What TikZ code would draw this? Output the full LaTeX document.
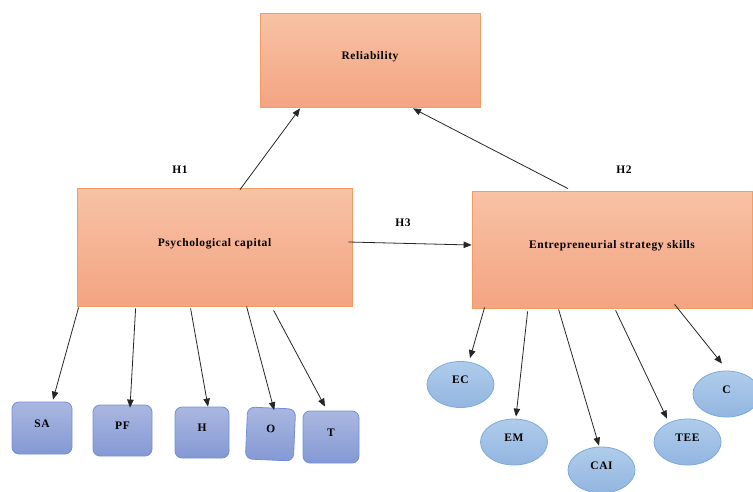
\documentclass[tikz,border=0pt]{standalone}
\usepackage{fontspec}
\setmainfont{Liberation Serif}
\newfontfamily\lblfont[LetterSpace=5]{Liberation Serif}
\usepackage{tikz}
\usetikzlibrary{calc}
\usetikzlibrary{shapes.geometric}
\usetikzlibrary{arrows.meta}
\definecolor{orangetop}{HTML}{F7C2A5}
\definecolor{orangebot}{HTML}{F4A482}
\definecolor{orangeline}{HTML}{F39C62}
\definecolor{sqtop}{HTML}{AAB7E0}
\definecolor{sqbot}{HTML}{8499D4}
\definecolor{sqline}{HTML}{7090D8}
\definecolor{elltop}{HTML}{B0CCEB}
\definecolor{ellbot}{HTML}{92B6E0}
\definecolor{ellline}{HTML}{7DAADD}
\tikzset{
    txt/.style={font=\lblfont\fontsize{11.5}{14}\selectfont\bfseries, text height=8pt, text depth=10pt, inner sep=0pt},
    bigbox/.style={txt, draw=orangeline, line width=0.8pt, top color=orangetop, bottom color=orangebot},
    sqbox/.style={txt, draw=sqline, line width=0.8pt, rounded corners=7pt, top color=sqtop, bottom color=sqbot},
    ellbox/.style={txt, ellipse, draw=ellline, line width=0.8pt, top color=elltop, bottom color=ellbot},
    arr/.style={-{Triangle[length=8pt,width=6.5pt]}, line width=0.8pt, black!85}
}

\begin{document}
\begin{tikzpicture}[x=1pt,y=-1pt]
\useasboundingbox (0,0) rectangle (753,491);
% main constructs
\node[bigbox, minimum width=220pt, minimum height=94pt] (rel) at (370,60) {Reliability};
\node[bigbox, minimum width=275pt, minimum height=118pt] (psy) at (214.5,247) {Psychological capital};
\node[bigbox, minimum width=280pt, minimum height=117pt] (ent) at (612,249.5) {Entrepreneurial strategy skills};
% dimensions of psychological capital
\foreach \x/\y/\w/\h/\r/\p/\t in {42/428/60/52/0/sa/SA, 122.5/430.5/59/51/0/pf/PF, 202/432.5/54/51/0/h/H, 270.5/434/48/52/-2.5/o/O, 331/437/56/52/0/t/T}{
    \node[sqbox, minimum width=\w pt, minimum height=\h pt, rotate=\r] (\p) at (\x,\y) {\t};
}
% dimensions of entrepreneurial strategy skills
\foreach \x/\y/\p/\t in {460.5/384.5/ec/EC, 514/442/em/EM, 601.5/470/cai/CAI, 687.5/442/tee/TEE, 726.5/394/c/C}{
    \node[ellbox, minimum width=67pt, minimum height=46pt] (\p) at (\x,\y) {\t};
}
% hypotheses
\draw[arr] ($(psy.north)+(25.5,2)$) -- ($(rel.south)+(-70,1)$);
\draw[arr] ($(ent.north)+(-44,-2)$) -- ($(rel.south)+(43,1)$);
\draw[arr] ($(psy.east)+(-4,-5)$) -- ($(ent.west)+(0,-4.5)$);
\node[txt] at (180,174) {H1};
\node[txt] at (624,174) {H2};
\node[txt] at (403,227) {H3};
% indicator arrows
\foreach \p/\a/\b/\c/\d in {sa/2/1/11/-2, pf/59/2/7.5/3, h/114/2/6/0, o/170/0/2.5/2.5, t/197/4/-6/-4}{
    \draw[arr] ($(psy.south west)+(\a,\b)$) -- ($(\p.north)+(\c,\d)$);
}
\foreach \p/\a/\b/\c/\d in {ec/13/-1/9.5/-3, em/56/3/2/-2, cai/87/1/-2.5/-1, tee/144/2/-20.5/0, c/203/-4/-4.5/-7}{
    \draw[arr] ($(ent.south west)+(\a,\b)$) -- ($(\p.north)+(\c,\d)$);
}
\end{tikzpicture}
\end{document}
